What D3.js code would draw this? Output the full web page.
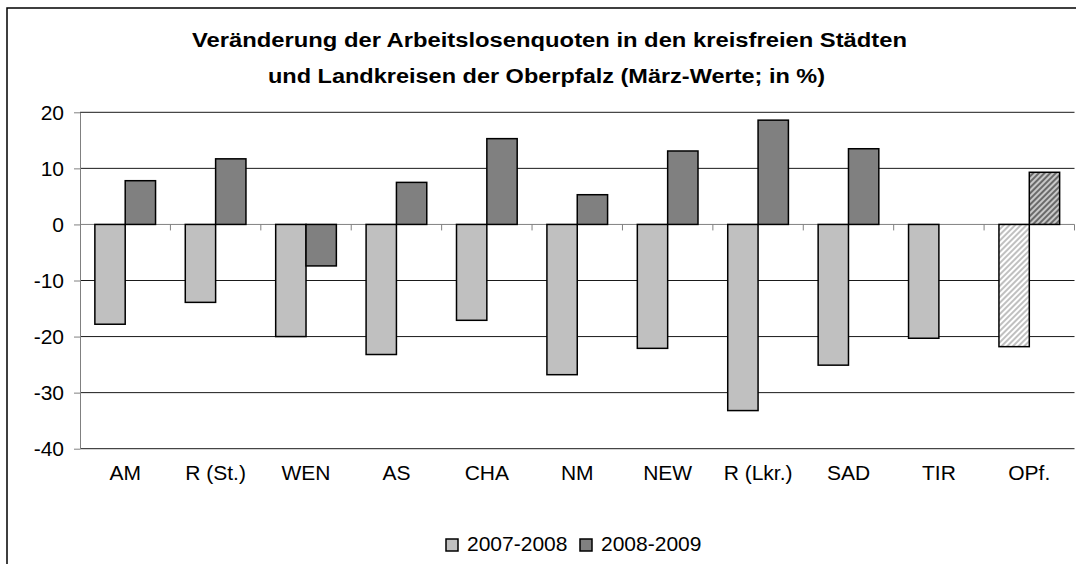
<!DOCTYPE html>
<html>
<head>
<meta charset="utf-8">
<script src="https://cdn.jsdelivr.net/npm/d3@7"></script>
<style>
  body { margin: 0; background: #fff; }
  svg { display: block; font-family: "Liberation Sans", Arial, sans-serif; }
</style>
</head>
<body>
<div id="chart"></div>
<script>
// data
var categories = ["AM", "R (St.)", "WEN", "AS", "CHA", "NM", "NEW", "R (Lkr.)", "SAD", "TIR", "OPf."];
var seriesNames = ["2007-2008", "2008-2009"];
var values0708 = [-17.8, -13.9, -20.0, -23.2, -17.1, -26.8, -22.1, -33.2, -25.1, -20.3, -21.8];
var values0809 = [7.8, 11.7, -7.4, 7.5, 15.3, 5.3, 13.1, 18.6, 13.5, null, 9.3];
var yTicks = [-40, -30, -20, -10, 0, 10, 20];
var titleLines = ["Veränderung der Arbeitslosenquoten in den kreisfreien Städten",
                  "und Landkreisen der Oberpfalz (März-Werte; in %)"];

var width = 1076, height = 564;

var svg = d3.select("#chart").append("svg")
  .attr("width", width)
  .attr("height", height);

// hatch patterns for the OPf. bars
var defs = svg.append("defs");
function hatch(id, bg, fg) {
  var p = defs.append("pattern")
    .attr("id", id)
    .attr("patternUnits", "userSpaceOnUse")
    .attr("width", 4).attr("height", 4)
    .attr("patternTransform", "rotate(45)");
  p.append("rect").attr("width", 4).attr("height", 4).attr("fill", bg);
  p.append("rect").attr("width", 2).attr("height", 4).attr("fill", fg);
}
hatch("hatchLight", "#ffffff", "#c0c0c0");
hatch("hatchDark", "#c8c8c8", "#6a6a6a");

// outer frame (right and bottom edge lie outside the picture)
svg.append("rect")
  .attr("x", 7).attr("y", 8)
  .attr("width", 1200).attr("height", 1000)
  .attr("fill", "none")
  .attr("stroke", "#000")
  .attr("stroke-width", 1.5);

// title
svg.append("text")
  .attr("x", 192).attr("y", 47)
  .attr("font-size", 20).attr("font-weight", "bold")
  .attr("textLength", 715).attr("lengthAdjust", "spacingAndGlyphs")
  .text(titleLines[0]);
svg.append("text")
  .attr("x", 268).attr("y", 83)
  .attr("font-size", 20).attr("font-weight", "bold")
  .attr("textLength", 557).attr("lengthAdjust", "spacingAndGlyphs")
  .text(titleLines[1]);

var x = d3.scaleBand()
  .domain(categories)
  .range([80, 1074.5])
  .padding(0);

var xs = d3.scaleBand()
  .domain([0, 1])
  .range([0, x.bandwidth()])
  .paddingInner(0)
  .paddingOuter(0.49);

var y = d3.scaleLinear()
  .domain([-40, 20])
  .range([448.7, 112.3]);

// gridlines
svg.append("g").selectAll("line")
  .data(yTicks.filter(function(d) { return d !== 0; }))
  .enter().append("line")
  .attr("x1", 80).attr("x2", 1074.5)
  .attr("y1", function(d) { return y(d); })
  .attr("y2", function(d) { return y(d); })
  .attr("stroke", "#1a1a1a")
  .attr("stroke-width", 1);

// y axis
var yAxis = svg.append("g")
  .attr("transform", "translate(80,0)")
  .call(d3.axisLeft(y).tickValues(yTicks)
    .tickFormat(function(d) { return String(d); })
    .tickSize(6).tickPadding(10).tickSizeOuter(0));
yAxis.select(".domain").attr("stroke", "#808080");
yAxis.selectAll(".tick line").attr("stroke", "#808080");
yAxis.selectAll(".tick text")
  .attr("font-size", 21)
  .attr("font-family", "Liberation Sans, Arial, sans-serif")
  .attr("fill", "#000");

// x axis line at zero with ticks on category boundaries
svg.append("line")
  .attr("x1", 80).attr("x2", 1074.5)
  .attr("y1", y(0)).attr("y2", y(0))
  .attr("stroke", "#808080");
svg.append("g").selectAll("line")
  .data(categories)
  .enter().append("line")
  .attr("x1", function(d) { return x(d) + x.bandwidth(); })
  .attr("x2", function(d) { return x(d) + x.bandwidth(); })
  .attr("y1", y(0)).attr("y2", y(0) + 6)
  .attr("stroke", "#808080");

// bars
var series = [values0708, values0809];
var fills = ["#c0c0c0", "#808080"];
var hatchFills = ["url(#hatchLight)", "url(#hatchDark)"];

series.forEach(function(vals, si) {
  svg.append("g").selectAll("rect")
    .data(vals.map(function(v, i) { return { cat: categories[i], v: v }; })
      .filter(function(d) { return d.v !== null; }))
    .enter().append("rect")
    .attr("x", function(d) { return x(d.cat) + xs(si); })
    .attr("width", xs.bandwidth())
    .attr("y", function(d) { return y(Math.max(0, d.v)); })
    .attr("height", function(d) { return Math.abs(y(d.v) - y(0)); })
    .attr("fill", function(d) { return d.cat === "OPf." ? hatchFills[si] : fills[si]; })
    .attr("stroke", "#000")
    .attr("stroke-width", 1.5);
});

// category labels
svg.append("g").selectAll("text")
  .data(categories)
  .enter().append("text")
  .attr("x", function(d) { return x(d) + x.bandwidth() / 2; })
  .attr("y", 480)
  .attr("text-anchor", "middle")
  .attr("font-size", 21)
  .text(function(d) { return d; });

// legend
var legendX = [446, 580];
var legend = svg.append("g");
seriesNames.forEach(function(name, i) {
  legend.append("rect")
    .attr("x", legendX[i]).attr("y", 539)
    .attr("width", 12).attr("height", 12)
    .attr("fill", fills[i])
    .attr("stroke", "#000")
    .attr("stroke-width", 1.5);
  legend.append("text")
    .attr("x", legendX[i] + 21).attr("y", 551)
    .attr("font-size", 21)
    .text(name);
});
</script>
</body>
</html>
